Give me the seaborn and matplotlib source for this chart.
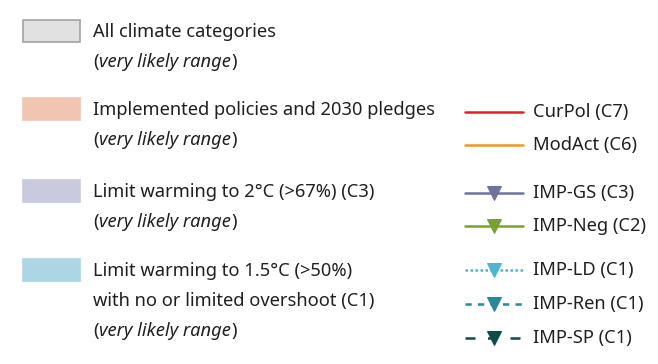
import matplotlib
matplotlib.use("Agg")
import matplotlib.pyplot as plt
import seaborn as sns
from matplotlib.patches import Rectangle

sns.set_theme(style="white")
plt.rcParams['font.family'] = ['Noto Sans', 'DejaVu Sans']

# Legend content
range_labels = [
    ["All climate categories", "(very likely range)"],
    ["Implemented policies and 2030 pledges", "(very likely range)"],
    ["Limit warming to 2°C (>67%) (C3)", "(very likely range)"],
    ["Limit warming to 1.5°C (>50%)", "with no or limited overshoot (C1)", "(very likely range)"],
]
range_colors = ["#e1e1e1", "#f2c5b3", "#c9cadd", "#acd6e3"]
range_edges = ["#a3a3a3", "#f2c5b3", "#c9cadd", "#acd6e3"]
range_y = [20, 98, 180, 259]

line_labels = ["CurPol (C7)", "ModAct (C6)", "IMP-GS (C3)", "IMP-Neg (C2)",
               "IMP-LD (C1)", "IMP-Ren (C1)", "IMP-SP (C1)"]
line_colors = ["#e3202a", "#f7941d", "#6f739f", "#78a22f", "#4cb5d6", "#2a8898", "#0f4b4b"]
line_styles = ["-", "-", "-", "-", (0, (1, 1)), (0, (2.5, 2.5)), (0, (4, 5))]
line_markers = [None, None, "v", "v", "v", "v", "v"]
line_y = [112, 145, 193, 226, 270, 304, 338]

fig = plt.figure(figsize=(6.58, 3.64), dpi=100)
ax = fig.add_axes([0, 0, 1, 1])
ax.set_xlim(0, 658)
ax.set_ylim(364, 0)
ax.axis("off")

fs = 13.2
tc = "#231f20"
for labels, fc, ec, y in zip(range_labels, range_colors, range_edges, range_y):
    ax.add_patch(Rectangle((23, y), 57, 22, facecolor=fc, edgecolor=ec, linewidth=1.2))
    for i, t in enumerate(labels):
        ty = y + 12 + 30 * i
        if t.startswith("(very"):
            a = ax.text(93, ty, "(", fontsize=fs, color=tc, va="center", ha="left")
            b = ax.annotate("very likely range", xy=(1, 0.5), xycoords=a, xytext=(0.5, 0),
                            textcoords="offset points", fontsize=fs, style="italic",
                            color=tc, va="center", ha="left")
            ax.annotate(")", xy=(1, 0.5), xycoords=b, xytext=(0.5, 0),
                        textcoords="offset points", fontsize=fs, color=tc,
                        va="center", ha="left")
        else:
            ax.text(93, ty, t, fontsize=fs, color=tc, va="center", ha="left")

for lab, c, ls, m, y in zip(line_labels, line_colors, line_styles, line_markers, line_y):
    sns.lineplot(x=[465, 494, 523], y=[y, y, y], ax=ax, color=c, linestyle=ls, linewidth=1.8,
                 marker=m, markevery=[1], markersize=10, markeredgecolor=c, markerfacecolor=c)
    ax.text(533, y, lab, fontsize=fs, color=tc, va="center", ha="left")

ax.set_xlim(0, 658)
ax.set_ylim(364, 0)
fig.savefig("out.png", dpi=100)
